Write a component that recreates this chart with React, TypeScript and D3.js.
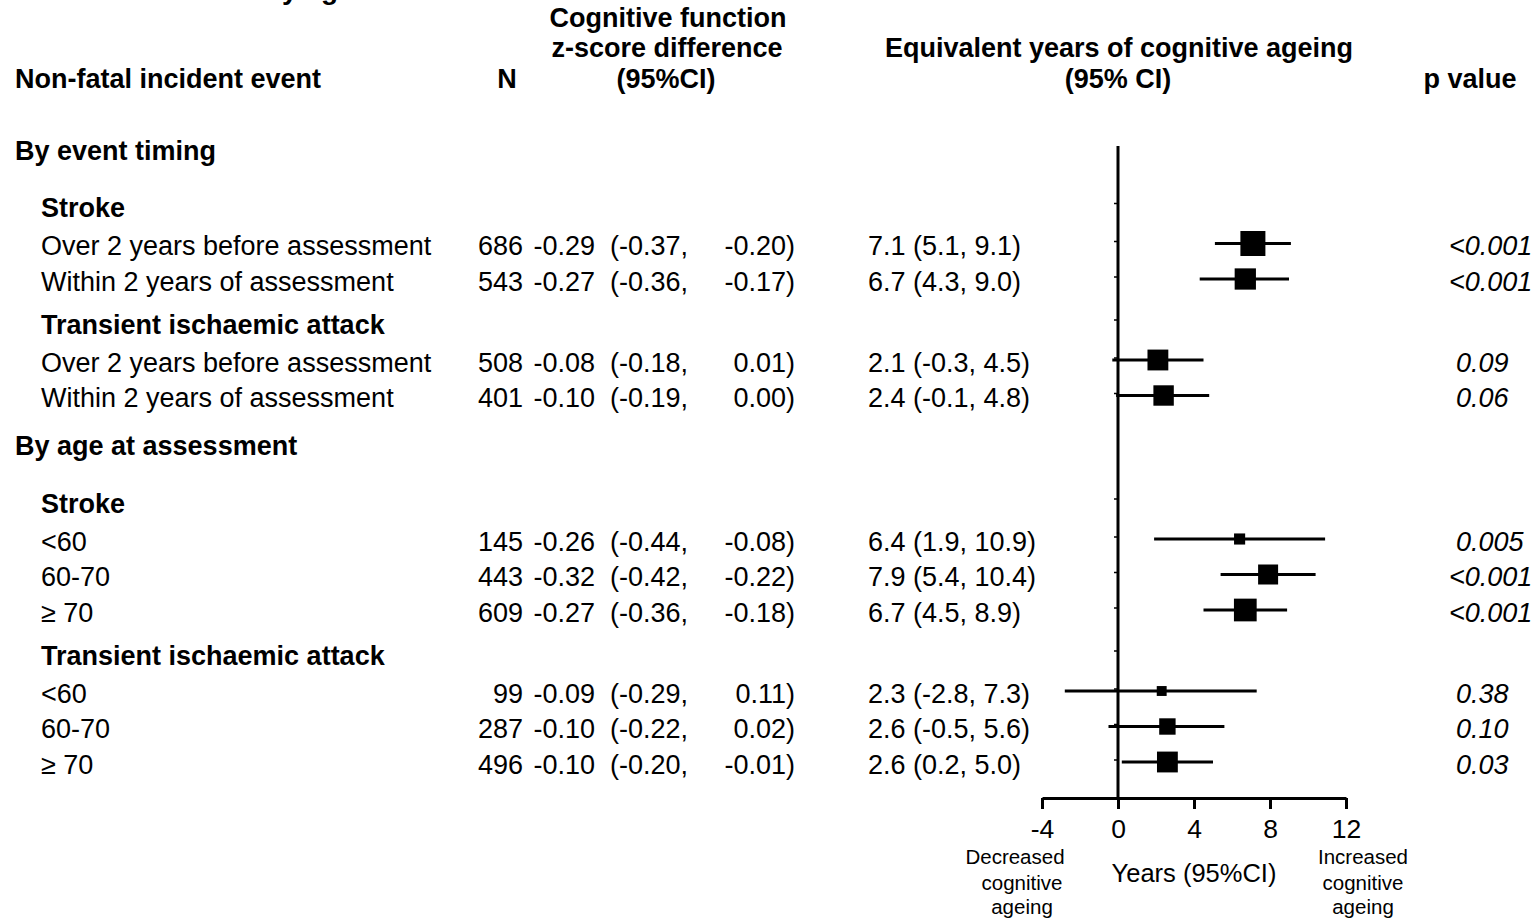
import React, { useEffect, useRef } from "react";
import * as d3 from "d3";

// --- data ---
const sectionTitles = ["By event timing", "By age at assessment"];
const groupTitles = ["Stroke", "Transient ischaemic attack"];
const timingLabels = ["Over 2 years before assessment", "Within 2 years of assessment"];
const ageLabels = ["<60", "60-70", "\u2265 70"];

const nValues = [686, 543, 508, 401, 145, 443, 609, 99, 287, 496];
const zEst = [-0.29, -0.27, -0.08, -0.1, -0.26, -0.32, -0.27, -0.09, -0.1, -0.1];
const zLow = [-0.37, -0.36, -0.18, -0.19, -0.44, -0.42, -0.36, -0.29, -0.22, -0.2];
const zHigh = [-0.2, -0.17, 0.01, 0.0, -0.08, -0.22, -0.18, 0.11, 0.02, -0.01];
const yearsEst = [7.1, 6.7, 2.1, 2.4, 6.4, 7.9, 6.7, 2.3, 2.6, 2.6];
const yearsLow = [5.1, 4.3, -0.3, -0.1, 1.9, 5.4, 4.5, -2.8, -0.5, 0.2];
const yearsHigh = [9.1, 9.0, 4.5, 4.8, 10.9, 10.4, 8.9, 7.3, 5.6, 5.0];
const pValues = ["<0.001", "<0.001", "0.09", "0.06", "0.005", "<0.001", "<0.001", "0.38", "0.10", "0.03"];
const xTicks = [-4, 0, 4, 8, 12];

const FONT = "'Liberation Sans', Arial, sans-serif";
const FS = 27;

const xScale = d3.scaleLinear().domain([-4, 12]).range([1042, 1346]);
// square side from precision (1 / CI width)
const sizeScale = d3.scaleLinear().domain([0, 1]).range([0, 100]);

type Item = { kind: "section" | "group" | "data"; text: string; idx?: number; y?: number };

// build the row list
const items: Item[] = [];
let di = 0;
sectionTitles.forEach((s, si) => {
  items.push({ kind: "section", text: s });
  groupTitles.forEach((g) => {
    items.push({ kind: "group", text: g });
    const labels = si === 0 ? timingLabels : ageLabels;
    labels.forEach((l) => {
      items.push({ kind: "data", text: l, idx: di });
      di++;
    });
  });
});

// vertical spacing between row kinds
const gaps: Record<string, number> = {
  "section>group": 57.5,
  "group>data": 38,
  "data>data": 35.5,
  "data>group": 43,
  "data>section": 48,
};
let cy = 150;
items.forEach((it, i) => {
  if (i > 0) cy += gaps[items[i - 1].kind + ">" + it.kind] || 40;
  it.y = cy;
});

const AXIS_Y = 798;
const fmt2 = (v: number) => v.toFixed(2);
const fmt1 = (v: number) => v.toFixed(1);

export default function App() {
  const axisRef = useRef<SVGGElement>(null);

  useEffect(() => {
    const g = d3.select(axisRef.current);
    g.call(
      d3.axisBottom(xScale).tickValues(xTicks).tickSize(11).tickSizeOuter(0).tickPadding(10.5)
        .tickFormat((d) => String(d))
    );
    g.select(".domain").attr("stroke-width", 3).attr("stroke", "#000");
    g.selectAll(".tick line").attr("stroke-width", 3).attr("stroke", "#000");
    g.selectAll(".tick text").attr("font-size", 26.5).attr("font-family", FONT).attr("fill", "#000");
  }, []);

  const dataRows = items.filter((d) => d.kind === "data");
  const tickRows = items.filter((d) => d.kind !== "section");

  return (
    <svg width={1536} height={918} style={{ position: "absolute", left: 0, top: 0, background: "#fff" }}
      fontFamily={FONT}>
      {/* clipped title at the very top */}
      <text x={170} y={-1} fontSize={28} fontWeight="bold">Stroke by age</text>

      {/* column headers */}
      <g fontWeight="bold" fontSize={27} textAnchor="middle">
        <text x={15} y={88} textAnchor="start">Non-fatal incident event</text>
        <text x={507} y={88}>N</text>
        <text x={668} y={27}>Cognitive function</text>
        <text x={667} y={57}>z-score difference</text>
        <text x={666} y={88}>(95%CI)</text>
        <text x={1119} y={57}>Equivalent years of cognitive ageing</text>
        <text x={1118} y={88}>(95% CI)</text>
        <text x={1470} y={88}>p value</text>
      </g>

      {/* row labels */}
      {items.map((it, i) => (
        <text key={"l" + i} x={it.kind === "section" ? 15 : 41} y={it.y! + 9.5} fontSize={FS}
          fontWeight={it.kind === "data" ? "normal" : "bold"}>{it.text}</text>
      ))}

      {/* table columns */}
      {dataRows.map((it) => {
        const k = it.idx!;
        const by = it.y! + 9.5;
        const p = pValues[k];
        return (
          <g key={"t" + k} fontSize={FS}>
            <text x={523} y={by} textAnchor="end">{nValues[k]}</text>
            <text x={595} y={by} textAnchor="end">{fmt2(zEst[k])}</text>
            <text x={610} y={by}>{"(" + fmt2(zLow[k]) + ","}</text>
            <text x={795} y={by} textAnchor="end">{fmt2(zHigh[k]) + ")"}</text>
            <text x={868} y={by}>{`${fmt1(yearsEst[k])} (${fmt1(yearsLow[k])}, ${fmt1(yearsHigh[k])})`}</text>
            <text x={p.startsWith("<") ? 1449 : 1456} y={by} fontStyle="italic">{p}</text>
          </g>
        );
      })}

      {/* zero line with row notches */}
      <line x1={xScale(0)} x2={xScale(0)} y1={146} y2={AXIS_Y} stroke="#000" strokeWidth={3} />
      {tickRows.map((it, i) => (
        <line key={"n" + i} x1={xScale(0) - 4} x2={xScale(0)} y1={it.y! - 4} y2={it.y! - 4} stroke="#000" strokeWidth={1.5} />
      ))}

      {/* CIs and squares */}
      {dataRows.map((it) => {
        const k = it.idx!;
        const yy = it.y! - 2;
        const side = sizeScale(1 / (yearsHigh[k] - yearsLow[k]));
        return (
          <g key={"f" + k}>
            <line x1={xScale(yearsLow[k])} x2={xScale(yearsHigh[k])} y1={yy} y2={yy} stroke="#000" strokeWidth={3} />
            <rect x={xScale(yearsEst[k]) - side / 2} y={yy - side / 2} width={side} height={side} fill="#000" />
          </g>
        );
      })}

      <g ref={axisRef} transform={`translate(0,${AXIS_Y})`} />

      {/* axis captions */}
      <text x={xScale(4)} y={882} fontSize={25.5} textAnchor="middle">Years (95%CI)</text>
      <g fontSize={20.5} textAnchor="middle">
        <text x={1015} y={864}>Decreased</text>
        <text x={1022} y={890}>cognitive</text>
        <text x={1022} y={914}>ageing</text>
        <text x={1363} y={864}>Increased</text>
        <text x={1363} y={890}>cognitive</text>
        <text x={1363} y={914}>ageing</text>
      </g>
    </svg>
  );
}
